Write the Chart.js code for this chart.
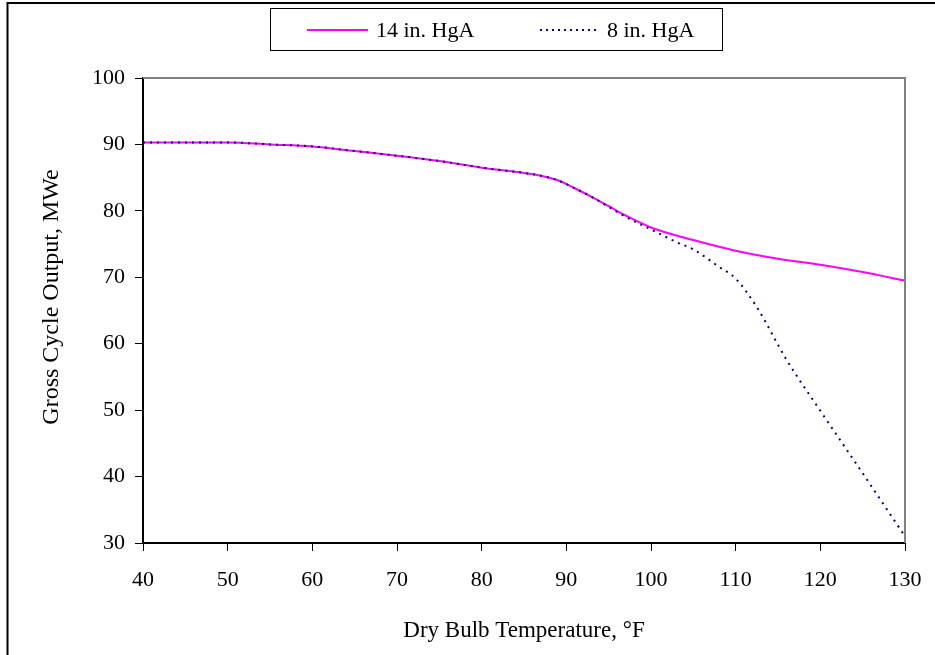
<!DOCTYPE html>
<html>
<head>
<meta charset="utf-8">
<script src="https://cdn.jsdelivr.net/npm/chart.js@4"></script>
<style>
html,body{margin:0;padding:0;background:#fff;}
#wrap{width:935px;height:655px;position:relative;}
</style>
</head>
<body>
<div id="wrap"><canvas id="c" width="935" height="655"></canvas></div>
<script>
// Data
const temp14 = [40,45,50,55,60,65,70,75,80,85,87,89,91,93,95,97,100,105,110,115,120,125,130];
const out14  = [90.3,90.3,90.3,90.0,89.7,89.0,88.3,87.5,86.5,85.7,85.3,84.6,83.4,82.1,80.7,79.3,77.5,75.6,74.0,72.8,71.9,70.8,69.5];
const temp8  = [40,45,50,55,60,65,70,75,80,85,87,89,91,93,95,97,100,103,105,108,110,112.5,116,120,125,130];
const out8   = [90.3,90.3,90.3,90.0,89.7,89.0,88.3,87.5,86.5,85.7,85.3,84.6,83.4,82.1,80.6,79.1,77.2,75.3,74.2,71.6,69.8,65.5,57.6,49.9,40.5,31.0];
const seriesNames = ['14 in. HgA','8 in. HgA'];
const xTicks = [40,50,60,70,80,90,100,110,120,130];
const yTicks = [30,40,50,60,70,80,90,100];
const xTitle = 'Dry Bulb Temperature, °F';
const yTitle = 'Gross Cycle Output, MWe';

const FONT = "'Liberation Serif','Times New Roman',serif";
const MAGENTA = '#FF00FF';
const NAVY = '#000080';

const decor = {
  id:'decor',
  beforeDraw(chart){
    const ctx = chart.ctx;
    ctx.save();
    ctx.fillStyle = '#fff';
    ctx.fillRect(0,0,chart.width,chart.height);
    ctx.strokeStyle = '#000';
    ctx.lineWidth = 2;
    ctx.beginPath();
    ctx.moveTo(7.5, chart.height);
    ctx.lineTo(7.5, 3);
    ctx.lineTo(chart.width, 3);
    ctx.stroke();
    ctx.restore();
  },
  afterDraw(chart){
    const ctx = chart.ctx;
    ctx.save();
    ctx.translate(52, 297);
    ctx.rotate(-Math.PI/2);
    ctx.fillStyle = '#000';
    ctx.font = "24px " + FONT;
    ctx.textAlign = 'center';
    ctx.textBaseline = 'middle';
    ctx.fillText(yTitle, 0, 0);
    ctx.restore();
  },
  afterDatasetsDraw(chart){
    const {ctx, chartArea:a} = chart;
    ctx.save();
    ctx.strokeStyle = '#808080';
    ctx.lineWidth = 2;
    ctx.beginPath();
    ctx.moveTo(a.left, a.top);
    ctx.lineTo(a.right, a.top);
    ctx.lineTo(a.right, a.bottom);
    ctx.stroke();
    const bx = 270.5, by = 8.5, bw = 452, bh = 42;
    ctx.fillStyle = '#fff';
    ctx.fillRect(bx, by, bw, bh);
    ctx.strokeStyle = '#000';
    ctx.lineWidth = 1;
    ctx.strokeRect(bx, by, bw, bh);
    const ly = 30;
    ctx.strokeStyle = MAGENTA;
    ctx.lineWidth = 2;
    ctx.setLineDash([]);
    ctx.beginPath(); ctx.moveTo(307, ly); ctx.lineTo(368, ly); ctx.stroke();
    ctx.strokeStyle = NAVY;
    ctx.setLineDash([2,4]);
    ctx.beginPath(); ctx.moveTo(540, ly); ctx.lineTo(600, ly); ctx.stroke();
    ctx.setLineDash([]);
    ctx.fillStyle = '#000';
    ctx.font = "22px " + FONT;
    ctx.textBaseline = 'middle';
    ctx.textAlign = 'left';
    ctx.fillText(seriesNames[0], 376, ly + 1);
    ctx.fillText(seriesNames[1], 607, ly + 1);
    ctx.restore();
  }
};

new Chart(document.getElementById('c'), {
  type:'line',
  data:{
    datasets:[
      {label:seriesNames[0], data:temp14.map((t,i)=>({x:t,y:out14[i]})),
       borderColor:MAGENTA, borderWidth:2, pointRadius:0,
       cubicInterpolationMode:'monotone', fill:false, order:2},
      {label:seriesNames[1], data:temp8.map((t,i)=>({x:t,y:out8[i]})),
       borderColor:NAVY, borderWidth:2, borderDash:[2,5], pointRadius:0,
       cubicInterpolationMode:'monotone', fill:false, order:1}
    ]
  },
  options:{
    responsive:false, animation:false,
    layout:{padding:{left:0, top:78, right:30, bottom:0}},
    plugins:{legend:{display:false}, tooltip:{enabled:false}},
    scales:{
      x:{type:'linear', min:40, max:130,
         afterFit(s){ s.height = 112; s.paddingRight = 0; s.paddingLeft = 0; },
         afterBuildTicks(s){ s.ticks = xTicks.map(v=>({value:v})); },
         grid:{drawOnChartArea:false, drawTicks:true, tickLength:8, color:'#000', lineWidth:1},
         border:{display:true, color:'#000', width:2},
         ticks:{color:'#000', padding:16, maxRotation:0, font:{family:FONT, size:22}},
         title:{display:true, text:xTitle, color:'#000', font:{family:FONT, size:23}, padding:{top:0,bottom:10}}
      },
      y:{type:'linear', min:30, max:100,
         afterFit(s){ s.width = 143; },
         afterBuildTicks(s){ s.ticks = yTicks.map(v=>({value:v})); },
         grid:{drawOnChartArea:false, drawTicks:true, tickLength:8, color:'#000', lineWidth:1},
         border:{display:true, color:'#000', width:2},
         ticks:{color:'#000', padding:10, font:{family:FONT, size:22}},
         title:{display:false}
      }
    }
  },
  plugins:[decor]
});
</script>
</body>
</html>
